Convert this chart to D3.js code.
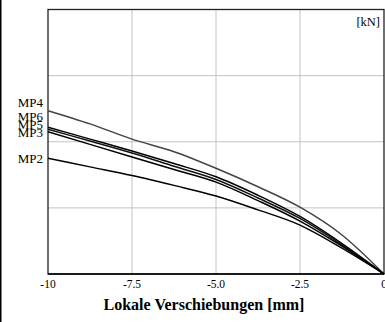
<!DOCTYPE html>
<html><head><meta charset="utf-8">
<script src="https://cdn.jsdelivr.net/npm/d3@7"></script>
<style>html,body{margin:0;padding:0;background:#fff;}svg{display:block;}</style>
</head><body>
<script>
const xValues = [-10, -8.75, -7.5, -6.25, -5, -3.75, -2.5, -1.25, 0];
const MP4 = [24.7, 22.7, 20.4, 18.5, 16.0, 13.2, 10.1, 5.9, 0];
const MP6 = [22.2, 20.4, 18.6, 16.7, 14.7, 11.9, 8.7, 4.6, 0];
const MP5 = [21.9, 20.1, 18.3, 16.3, 14.3, 11.5, 8.4, 4.4, 0];
const MP3 = [21.5, 19.6, 17.7, 15.8, 13.9, 11.1, 8.0, 4.2, 0];
const MP2 = [17.5, 16.2, 14.9, 13.4, 11.8, 9.7, 7.4, 3.9, 0];
const seriesNames = ["MP4", "MP6", "MP5", "MP3", "MP2"];
const xTicks = [-10, -7.5, -5, -2.5, 0];
const xTickLabels = ["-10", "-7.5", "-5.0", "-2.5", "0"];
const yTicks = [0, 10, 20, 30, 40];
const xTitle = "Lokale Verschiebungen [mm]";
const unitLabel = "[kN]";

const W = 385, H = 322;
const m = {l: 48, r: 1, t: 9.5, b: 48};
const FONT = '"Liberation Serif"';
const svg = d3.select("body").append("svg").attr("width", W).attr("height", H);
const x = d3.scaleLinear().domain([-10, 0]).range([m.l, W - m.r]);
const y = d3.scaleLinear().domain([0, 40]).range([H - m.b, m.t]);

// outer image frame line at left
svg.append("line").attr("x1", 0.75).attr("x2", 0.75).attr("y1", 0).attr("y2", H)
  .attr("stroke", "#000").attr("stroke-width", 1.5);

// grid
svg.append("g").selectAll("line").data(xTicks.slice(1, -1)).join("line")
  .attr("x1", d => x(d)).attr("x2", d => x(d)).attr("y1", y(40)).attr("y2", y(0))
  .attr("stroke", "#c4c4c4").attr("stroke-width", 1);
svg.append("g").selectAll("line").data(yTicks.slice(1, -1)).join("line")
  .attr("x1", x(-10)).attr("x2", x(0)).attr("y1", d => y(d)).attr("y2", d => y(d))
  .attr("stroke", "#c4c4c4").attr("stroke-width", 1);

// frame
svg.append("rect").attr("x", x(-10)).attr("y", y(40)).attr("width", x(0) - x(-10)).attr("height", y(0) - y(40))
  .attr("fill", "none").attr("stroke", "#222").attr("stroke-width", 1.3);
svg.append("line").attr("x1", x(-10)).attr("x2", x(0)).attr("y1", y(0)).attr("y2", y(0))
  .attr("stroke", "#000").attr("stroke-width", 1.6);

// lines
const data = {MP4, MP6, MP5, MP3, MP2};
const colors = {MP4: "#444", MP6: "#000", MP5: "#111", MP3: "#000", MP2: "#000"};
const line = d3.line().x((d, i) => x(xValues[i])).y(d => y(d)).curve(d3.curveMonotoneX);
seriesNames.forEach(n => {
  svg.append("path").attr("d", line(data[n])).attr("fill", "none")
    .attr("stroke", colors[n]).attr("stroke-width", 1.5);
});

// labels at left (shifted to avoid overlap)
const labelShift = {MP4: -8, MP6: -10.5, MP5: -5, MP3: 0.5, MP2: 0};
seriesNames.forEach(n => {
  svg.append("text").attr("x", 43).attr("y", y(data[n][0]) + labelShift[n] + 4.5)
    .attr("text-anchor", "end").style("font-family", FONT).style("font-size", "13px")
    .attr("fill", "#000").text(n);
});

// x tick labels
svg.append("g").selectAll("text").data(xTicks).join("text")
  .attr("x", d => x(d)).attr("y", 288).attr("text-anchor", "middle")
  .style("font-family", FONT).style("font-size", "11.5px").attr("fill", "#000")
  .text((d, i) => xTickLabels[i]);

// x title
svg.append("text").attr("x", 204).attr("y", 310).attr("text-anchor", "middle")
  .style("font-family", FONT).style("font-size", "16px").style("font-weight", "bold").attr("fill", "#000")
  .text(xTitle);

// unit
svg.append("text").attr("x", 380).attr("y", 26).attr("text-anchor", "end")
  .style("font-family", FONT).style("font-size", "12.5px").attr("fill", "#000").text(unitLabel);
</script>
</body></html>
